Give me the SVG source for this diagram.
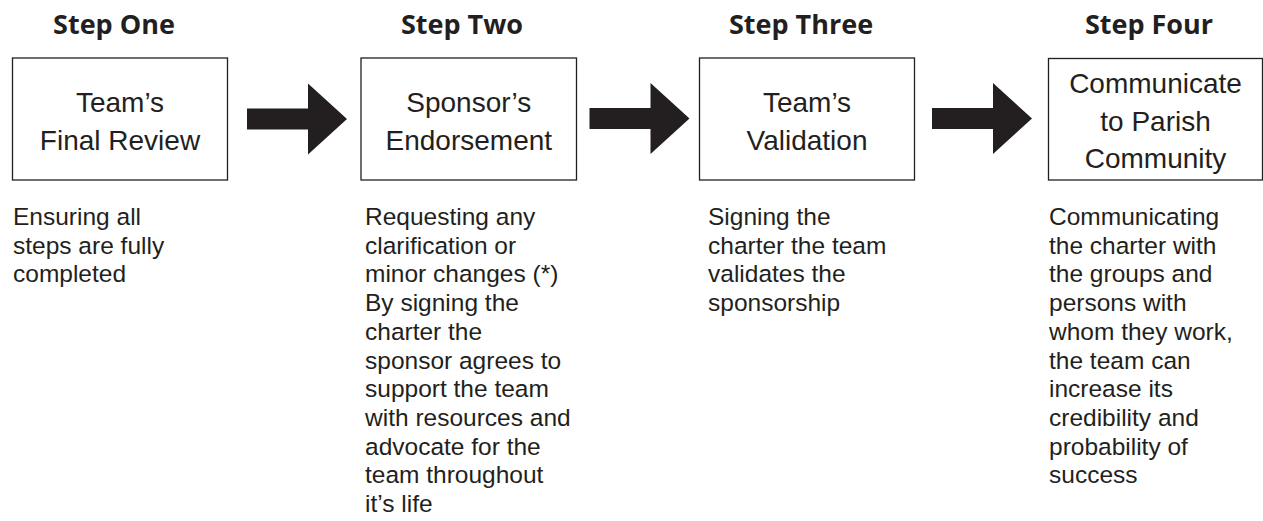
<svg xmlns="http://www.w3.org/2000/svg" width="1263" height="521" viewBox="0 0 1263 521">
  <style>
    .head { font-family: "Open Sans", "Liberation Sans", sans-serif; font-weight: 700; font-size: 27px; fill: #231f20; text-anchor: middle; }
    .box { fill: #ffffff; stroke: #231f20; stroke-width: 1.3; }
    .label { font-family: "Liberation Sans", Arial, sans-serif; font-size: 28px; fill: #231f20; text-anchor: middle; }
    .body { font-family: "Liberation Sans", Arial, sans-serif; font-size: 24.5px; fill: #231f20; }
    .arrow { fill: #231f20; }
  </style>
  <defs>
    <!-- block arrow, 100 wide, centred on y=0 -->
    <path id="blockArrow" d="M0,-10.5 H61 V-35.5 L100,0 L61,35.5 V10.5 H0 Z"/>
  </defs>

  <rect width="1263" height="521" fill="#ffffff"/>

  <g id="step1">
    <text class="head" x="114" y="34">Step One</text>
    <rect class="box" x="12.5" y="58" width="215" height="122"/>
    <text class="label" x="120" y="111.5">Team’s</text>
    <text class="label" x="120" y="150">Final Review</text>
    <text class="body">
      <tspan x="13" y="225">Ensuring all</tspan>
      <tspan x="13" y="253.7">steps are fully</tspan>
      <tspan x="13" y="282.4">completed</tspan>
    </text>
  </g>

  <g id="step2">
    <text class="head" x="462" y="34">Step Two</text>
    <rect class="box" x="361" y="58" width="215.5" height="122"/>
    <text class="label" x="468.8" y="111.5">Sponsor’s</text>
    <text class="label" x="468.8" y="150">Endorsement</text>
    <text class="body">
      <tspan x="365" y="225">Requesting any</tspan>
      <tspan x="365" y="253.7">clarification or</tspan>
      <tspan x="365" y="282.4">minor changes (*)</tspan>
      <tspan x="365" y="311.1">By signing the</tspan>
      <tspan x="365" y="339.8">charter the</tspan>
      <tspan x="365" y="368.5">sponsor agrees to</tspan>
      <tspan x="365" y="397.2">support the team</tspan>
      <tspan x="365" y="425.9">with resources and</tspan>
      <tspan x="365" y="454.6">advocate for the</tspan>
      <tspan x="365" y="483.3">team throughout</tspan>
      <tspan x="365" y="512">it’s life</tspan>
    </text>
  </g>

  <g id="step3">
    <text class="head" x="801" y="34">Step Three</text>
    <rect class="box" x="699.5" y="58" width="215" height="122"/>
    <text class="label" x="807" y="111.5">Team’s</text>
    <text class="label" x="807" y="150">Validation</text>
    <text class="body">
      <tspan x="708" y="225">Signing the</tspan>
      <tspan x="708" y="253.7">charter the team</tspan>
      <tspan x="708" y="282.4">validates the</tspan>
      <tspan x="708" y="311.1">sponsorship</tspan>
    </text>
  </g>

  <g id="step4">
    <text class="head" x="1149" y="34">Step Four</text>
    <rect class="box" x="1048.5" y="58.5" width="214" height="121.5"/>
    <text class="label" x="1155.5" y="92.5">Communicate</text>
    <text class="label" x="1155.5" y="130.5">to Parish</text>
    <text class="label" x="1155.5" y="168">Community</text>
    <text class="body">
      <tspan x="1049" y="225">Communicating</tspan>
      <tspan x="1049" y="253.7">the charter with</tspan>
      <tspan x="1049" y="282.4">the groups and</tspan>
      <tspan x="1049" y="311.1">persons with</tspan>
      <tspan x="1049" y="339.8">whom they work,</tspan>
      <tspan x="1049" y="368.5">the team can</tspan>
      <tspan x="1049" y="397.2">increase its</tspan>
      <tspan x="1049" y="425.9">credibility and</tspan>
      <tspan x="1049" y="454.6">probability of</tspan>
      <tspan x="1049" y="483.3">success</tspan>
    </text>
  </g>

  <g id="connectors">
    <use href="#blockArrow" class="arrow" x="247" y="119"/>
    <use href="#blockArrow" class="arrow" x="589.5" y="118.5"/>
    <use href="#blockArrow" class="arrow" x="932" y="118.5"/>
  </g>
</svg>
